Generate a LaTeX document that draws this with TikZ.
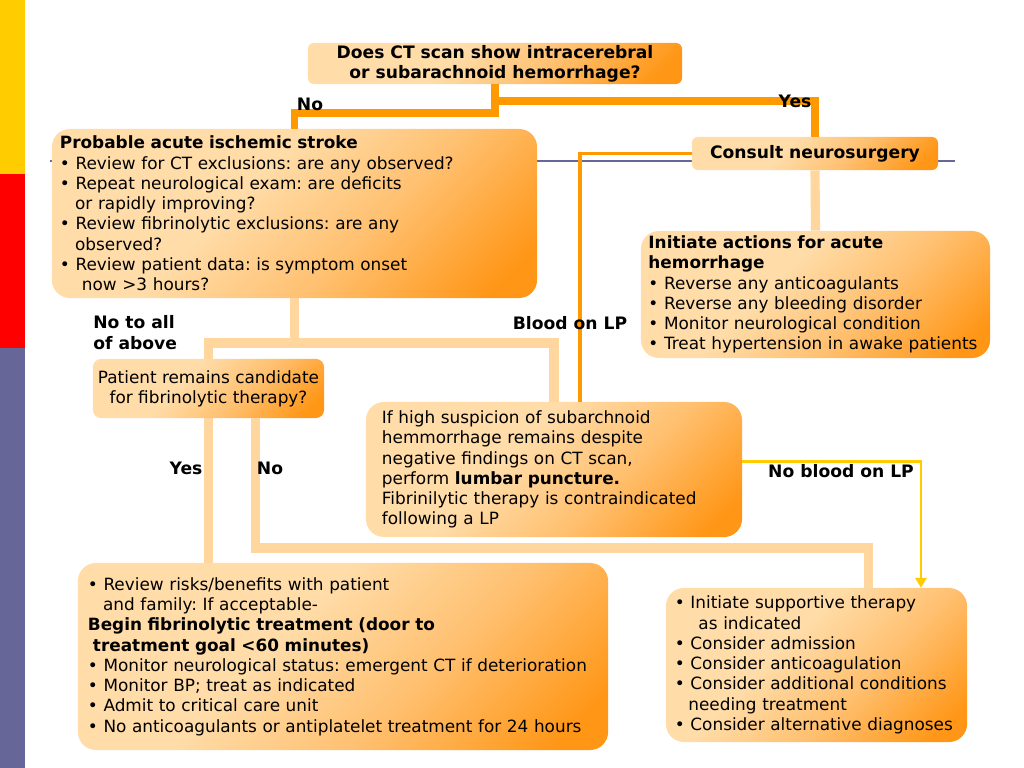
\documentclass[tikz,border=0pt]{standalone}
\usepackage{fontspec}
\setmainfont{DejaVu Sans}
\usetikzlibrary{arrows.meta, positioning, calc}

\definecolor{plight}{RGB}{255,220,168}
\definecolor{pmid}{RGB}{255,192,112}
\definecolor{pdark}{RGB}{255,150,22}
\definecolor{linedark}{RGB}{255,153,0}
\definecolor{linelight}{RGB}{255,214,158}
\definecolor{lineyellow}{RGB}{255,204,0}
\definecolor{slateblue}{RGB}{102,102,153}
\definecolor{stripered}{RGB}{255,0,0}

\pgfdeclareverticalshading{peach}{100bp}{color(0bp)=(pdark); color(20bp)=(pdark); color(40bp)=(pmid); color(58bp)=(plight); color(100bp)=(plight)}

\tikzset{
    box/.style={shade, shading=peach, shading angle=45, inner xsep=0.2cm, inner ysep=0pt,
        font=\fontsize{12}{14.4}\selectfont, align=left, rounded corners=0.45cm},
    lbl/.style={font=\bfseries\fontsize{12.2}{15}\selectfont, inner sep=0pt},
    flowdark/.style={draw=linedark, line width=5pt},
    flowlight/.style={draw=linelight, line width=6.5pt},
    lpline/.style={draw=linedark, line width=2.5pt},
    nolpline/.style={draw=lineyellow, line width=2pt, -{Triangle[length=7pt,width=8pt]}},
}

\begin{document}
\frenchspacing
\hyphenpenalty=10000
\begin{tikzpicture}[x=0.025cm, y=-0.025cm]

    \useasboundingbox (0,0) rectangle (1024,768);
    \fill[white] (0,0) rectangle (1024,768);

    % -------------------------------------------------------------
    % side stripe and rule
    % -------------------------------------------------------------
    \fill[lineyellow] (0,0) rectangle (25,174);
    \fill[stripered] (0,174) rectangle (25,348);
    \fill[slateblue] (0,348) rectangle (25,768);
    \draw[slateblue, line width=1.5pt] (50,161) -- (955,161);

    % -------------------------------------------------------------
    % boxes
    % -------------------------------------------------------------
    \node[box, align=center, rounded corners=0.15cm, minimum width=9.35cm, minimum height=1.025cm,
        font=\bfseries\fontsize{12.2}{14.4}\selectfont] (ct) at (495,63.5)
        {Does CT scan show intracerebral\\or subarachnoid hemorrhage?};

    \node[box, minimum width=12.125cm, minimum height=4.225cm, text width=11.725cm] (isch) at (294.5,213.5)
        {\textbf{Probable acute ischemic stroke}\\
        • Review for CT exclusions: are any observed?\\
        • Repeat neurological exam: are deficits\\
        \hspace*{0.9em}or rapidly improving?\\
        • Review fibrinolytic exclusions: are any\\
        \hspace*{0.9em}observed?\\
        • Review patient data: is symptom onset\\
        \hspace*{1.3em}now >3 hours?};

    \node[box, align=center, rounded corners=0.15cm, minimum width=6.15cm, minimum height=0.825cm,
        font=\bfseries\fontsize{12.2}{14.4}\selectfont] (consult) at (815,153.5) {Consult neurosurgery};

    \node[box, minimum width=8.725cm, minimum height=3.175cm, text width=8.35cm, inner xsep=0.18cm] (init) at (815.5,294.5)
        {\textbf{Initiate actions for acute}\\
        \textbf{hemorrhage}\\
        • Reverse any anticoagulants\\
        • Reverse any bleeding disorder\\
        • Monitor neurological condition\\
        • Treat hypertension in awake patients};

    \node[box, align=center, inner xsep=0.1cm, rounded corners=0.2cm, minimum width=5.775cm, minimum height=1.475cm] (cand) at (208.5,388.5)
        {Patient remains candidate\\for fibrinolytic therapy?};

    \node[box, inner xsep=0.4cm, minimum width=9.4cm, minimum height=3.375cm, text width=8.6cm] (lp) at (554,469.5)
        {If high suspicion of subarchnoid\\
        hemmorrhage remains despite\\
        negative findings on CT scan,\\
        perform \textbf{lumbar puncture.}\\
        Fibrinilytic therapy is contraindicated\\
        following a LP};

    \node[box, inner xsep=0.25cm, minimum width=13.25cm, minimum height=4.675cm, text width=12.75cm] (treat) at (343,656.5)
        {• Review risks/benefits with patient\\
        \hspace*{0.9em}and family: If acceptable-\\
        \textbf{Begin fibrinolytic treatment (door to}\\
        \textbf{\hspace*{0.3em}treatment goal <60 minutes)}\\
        • Monitor neurological status: emergent CT if deterioration\\
        • Monitor BP; treat as indicated\\
        • Admit to critical care unit\\
        • No anticoagulants or antiplatelet treatment for 24 hours};

    \node[box, inner xsep=0.22cm, minimum width=7.525cm, minimum height=3.85cm, text width=7.08cm] (supp) at (816.5,665)
        {• Initiate supportive therapy\\
        \hspace*{1.4em}as indicated\\
        • Consider admission\\
        • Consider anticoagulation\\
        • Consider additional conditions\\
        \hspace*{0.8em}needing treatment\\
        • Consider alternative diagnoses};

    % -------------------------------------------------------------
    % connectors
    % -------------------------------------------------------------
    \coordinate (noRow) at (0,113);
    \coordinate (yesRow) at (0,101);
    \coordinate (splitRow) at (0,343);
    \coordinate (candNoRow) at (0,548);
    \coordinate (suppIn) at ([xshift=1.29cm]supp.north);
    \coordinate (suppArrow) at ([xshift=2.61cm]supp.north);

    \draw[flowdark] (ct.south) |- (noRow -| isch.north) -- (isch.north);
    \draw[flowdark] (ct.south) |- (yesRow -| consult.north) -- (consult.north);
    \draw[flowlight] (consult.south) -- (init.north);
    \draw[lpline] (consult.west) -| ([xshift=0.65cm]lp.north);

    \draw[flowlight] (isch.south) |- (splitRow -| cand.north) -- (cand.north);
    \draw[flowlight] (isch.south) |- (splitRow -| lp.north) -- (lp.north);

    \draw[flowlight] (cand.south) -- (cand.south |- treat.north);
    \draw[flowlight] ([xshift=1.18cm]cand.south) |- (candNoRow -| suppIn) -- (suppIn);

    \draw[nolpline] ([yshift=0.19cm]lp.east) -| (suppArrow);

    % -------------------------------------------------------------
    % labels
    % -------------------------------------------------------------
    \node[lbl] (lNo) at (310,104) {No};
    \node[lbl] (lYes) at (795,101) {Yes};
    \node[lbl, align=left, anchor=west] (lNoAll) at (93,333) {No to all\\of above};
    \node[lbl] (lBlood) at (570,323) {Blood on LP};
    \node[lbl] (lCandYes) at (186,468) {Yes};
    \node[lbl] (lCandNo) at (270,468) {No};
    \node[lbl] (lNoBlood) at (841,471) {No blood on LP};

\end{tikzpicture}
\end{document}
